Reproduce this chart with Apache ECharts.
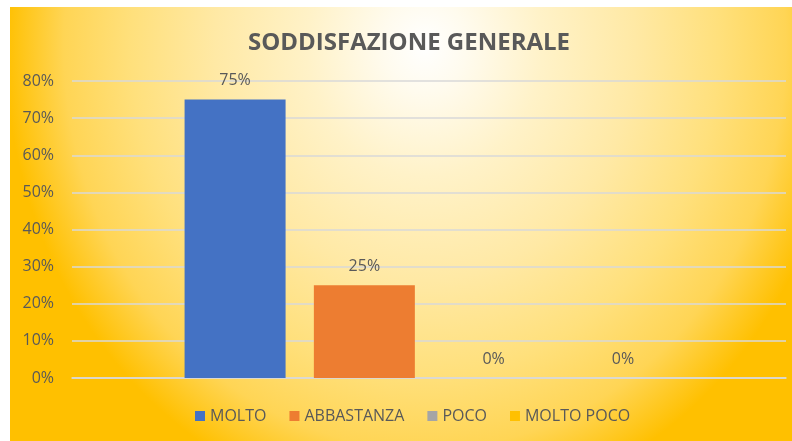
<!DOCTYPE html>
<html>
<head>
<meta charset="utf-8">
<script src="https://cdn.jsdelivr.net/npm/echarts@6/dist/echarts.min.js"></script>
<style>
    * { margin: 0; padding: 0; }
    body { background: #fff; }
    #main {
        width: 792px;
        height: 441px;
        background:
            radial-gradient(ellipse 420px 470px at 415px 38px,
                #FFFFFF 0%, #FFFBEE 10%, #FFF2C8 28%, #FFE9A5 50%, #FFE07C 70%, #FFD555 86%, #FFC000 100%)
            10px 7px / 782px 434px no-repeat,
            #fff;
    }
</style>
</head>
<body>
<div id="main"></div>
<script>
    // dati
    var categorie = [''];
    var risposte = ['MOLTO', 'ABBASTANZA', 'POCO', 'MOLTO POCO'];
    var percentuali = [75, 25, 0, 0];
    var colori = ['#4472C4', '#ED7D31', '#A5A5A5', '#FFC000'];

    var myChart = echarts.init(document.getElementById('main'));
    var font = '"Open Sans", "Liberation Sans", sans-serif';

    var series = risposte.map(function (nome, i) {
        return {
            name: nome,
            type: 'bar',
            data: [percentuali[i]],
            barWidth: 101,
            barGap: '28%',
            itemStyle: { color: colori[i] },
            label: {
                show: true,
                position: 'top',
                distance: 11,
                formatter: '{c}%',
                color: '#595959',
                fontSize: 16,
                fontFamily: font
            }
        };
    });

    var option = {
        animation: false,
        title: {
            text: 'SODDISFAZIONE GENERALE',
            left: 404,
            textAlign: 'center',
            top: 26,
            textStyle: {
                color: '#595959',
                fontSize: 24,
                fontWeight: 'bold',
                fontFamily: font
            }
        },
        legend: {
            bottom: 12,
            left: 190,
            itemWidth: 10,
            itemHeight: 10,
            itemGap: 23,
            icon: 'rect',
            textStyle: { color: '#595959', fontSize: 16, fontFamily: font }
        },
        grid: { left: 72, right: 6, top: 81, bottom: 63 },
        xAxis: {
            type: 'category',
            data: categorie,
            axisTick: { show: false },
            axisLabel: { show: false },
            axisLine: { lineStyle: { color: '#D9D9D9', width: 1.5 } }
        },
        yAxis: {
            type: 'value',
            min: 0,
            max: 80,
            interval: 10,
            axisLabel: {
                formatter: '{value}%',
                color: '#595959',
                fontSize: 16,
                margin: 18,
                fontFamily: font
            },
            axisLine: { show: false },
            axisTick: { show: false },
            splitLine: { lineStyle: { color: '#D9D9D9', width: 1.5 } }
        },
        series: series
    };

    myChart.setOption(option);
</script>
</body>
</html>
